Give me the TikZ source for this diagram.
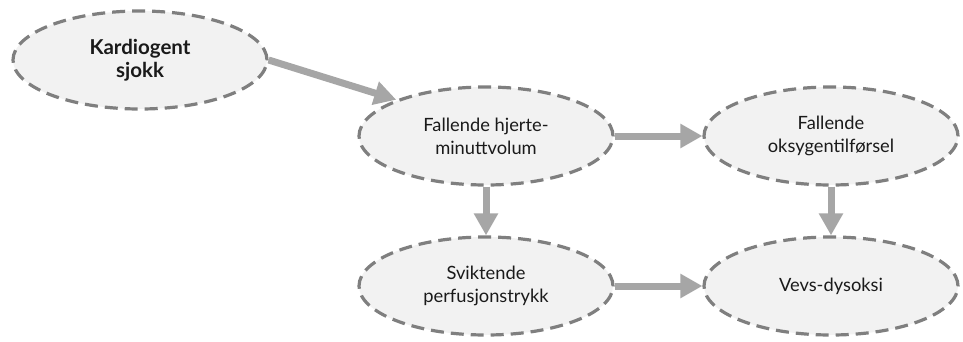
\documentclass[tikz,border=0pt]{standalone}
\usepackage{fontspec}
\setmainfont{Lato}
\usetikzlibrary{arrows.meta,shapes.geometric}
\definecolor{dashgray}{HTML}{7F7F7F}
\definecolor{bubblefill}{HTML}{F2F2F2}
\definecolor{arrowgray}{HTML}{A6A6A6}
\definecolor{textdark}{HTML}{1A1A1A}
\begin{document}
\begin{tikzpicture}[x=1pt,y=1pt,
  bubble/.style={ellipse, draw=dashgray, fill=bubblefill, line width=3.2pt,
    dash pattern=on 13pt off 7pt, minimum width=254pt, minimum height=98pt,
    inner sep=0pt, align=center, text=textdark,
    font=\fontsize{18.3}{23.3}\selectfont},
  flow/.style={draw=arrowgray, line width=7pt,
    -{Triangle[width=23pt,length=22pt]}}]
  % canvas
  \useasboundingbox (0,0) rectangle (963,-342);

  % states
  \node[bubble, font=\fontsize{20.5}{23}\selectfont\bfseries] (kardio) at (140,-60) {Kardiogent\\sjokk};
  \node[bubble] (hjerte) at (486,-136) {Fallende hjerte-\\minuttvolum};
  \node[bubble] (oksygen) at (831,-136) {Fallende\\oksygentilførsel};
  \node[bubble] (perfusjon) at (486,-286) {Sviktende\\perfusjonstrykk};
  \node[bubble] (dysoksi) at (831,-286) {Vevs-dysoksi};

  % consequences
  \draw[flow] (kardio.east) -- (hjerte.158);
  \draw[flow] (hjerte.east) -- (oksygen.west);
  \draw[flow] (hjerte.south) -- (perfusjon.north);
  \draw[flow] (oksygen.south) -- (dysoksi.north);
  \draw[flow] (perfusjon.east) -- (dysoksi.west);
\end{tikzpicture}
\end{document}
